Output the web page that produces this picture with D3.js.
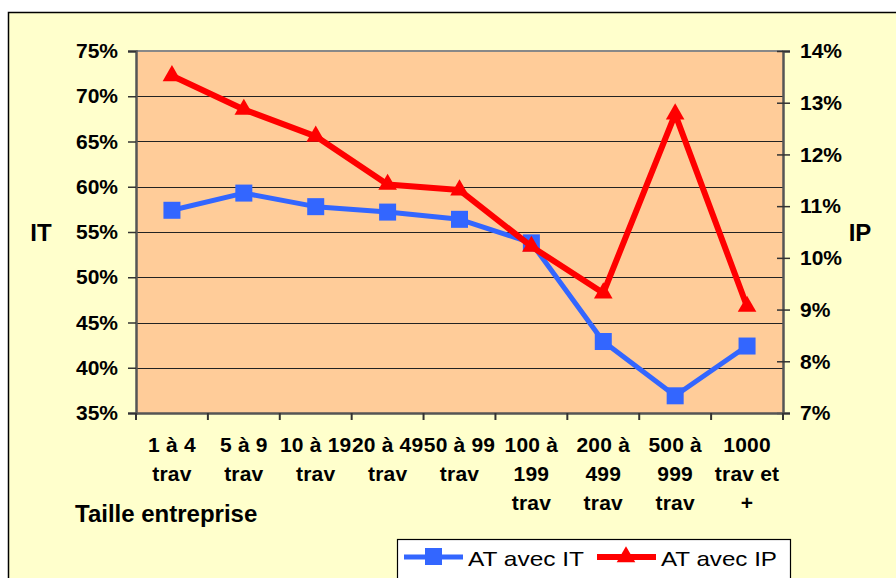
<!DOCTYPE html>
<html>
<head>
<meta charset="utf-8">
<script src="https://cdn.jsdelivr.net/npm/d3@7"></script>
<style>
  body { margin: 0; background: #fff; }
  svg text { font-family: "Liberation Sans", Arial, sans-serif; fill: #000; }
</style>
</head>
<body>
<script>
// données
const categories = [
  ['1 à 4', 'trav'],
  ['5 à 9', 'trav'],
  ['10 à 19', 'trav'],
  ['20 à 49', 'trav'],
  ['50 à 99', 'trav'],
  ['100 à', '199', 'trav'],
  ['200 à', '499', 'trav'],
  ['500 à', '999', 'trav'],
  ['1000', 'trav et', '+']
];
const avecIT = [0.574, 0.593, 0.578, 0.572, 0.564, 0.538, 0.429, 0.369, 0.424];
const avecIP = [0.1352, 0.1287, 0.1235, 0.1142, 0.1131, 0.1022, 0.0932, 0.1278, 0.0906];
const ticksIT = [0.35, 0.40, 0.45, 0.50, 0.55, 0.60, 0.65, 0.70, 0.75];
const ticksIP = [0.07, 0.08, 0.09, 0.10, 0.11, 0.12, 0.13, 0.14];
const legendLabels = ['AT avec IT', 'AT avec IP'];

const width = 896, height = 578;
const plot = {left: 136, right: 783, top: 51, bottom: 413};

const svg = d3.select('body').append('svg')
  .attr('width', width)
  .attr('height', height);

// cadre du graphique
svg.append('rect')
  .attr('x', 8.5).attr('y', 12.5)
  .attr('width', 920).attr('height', 620)
  .attr('fill', '#FFFFCC')
  .attr('stroke', '#000').attr('stroke-width', 1.5);

const x = d3.scaleBand()
  .domain(d3.range(categories.length))
  .range([plot.left, plot.right]);
const yL = d3.scaleLinear().domain([0.35, 0.75]).range([plot.bottom, plot.top]);
const yR = d3.scaleLinear().domain([0.07, 0.14]).range([plot.bottom, plot.top]);
const pct = d3.format('.0%');

// zone de traçage
svg.append('rect')
  .attr('x', plot.left).attr('y', plot.top)
  .attr('width', plot.right - plot.left)
  .attr('height', plot.bottom - plot.top)
  .attr('fill', '#FFCC99');

// quadrillage
svg.append('g')
  .selectAll('line')
  .data(ticksIT.slice(1, -1))
  .join('line')
  .attr('x1', plot.left).attr('x2', plot.right)
  .attr('y1', d => Math.round(yL(d)) + 0.5)
  .attr('y2', d => Math.round(yL(d)) + 0.5)
  .attr('stroke', '#222').attr('stroke-width', 1.2);

svg.append('line')
  .attr('x1', plot.left).attr('x2', plot.right)
  .attr('y1', plot.top).attr('y2', plot.top)
  .attr('stroke', '#888').attr('stroke-width', 2);

// axe gauche
const axisL = svg.append('g')
  .attr('transform', `translate(${plot.left},0)`)
  .call(d3.axisLeft(yL).tickValues(ticksIT).tickFormat(pct).tickSize(8).tickPadding(10));

// axe droit
const axisR = svg.append('g')
  .attr('transform', `translate(${plot.right},0)`)
  .call(d3.axisRight(yR).tickValues(ticksIP).tickFormat(pct).tickSize(7).tickPadding(10));
axisR.selectAll('.tick line').attr('x1', -6);

// axe du bas
const axisB = svg.append('g')
  .attr('transform', `translate(0,${plot.bottom})`)
  .call(d3.axisBottom(x).tickValues([]).tickSize(0));
axisB.selectAll('.tk')
  .data(d3.range(categories.length + 1))
  .join('line')
  .attr('class', 'tk')
  .attr('x1', d => plot.left + d * x.step())
  .attr('x2', d => plot.left + d * x.step())
  .attr('y1', 0).attr('y2', 7)
  .attr('stroke', '#333').attr('stroke-width', 2);

[axisL, axisR, axisB].forEach(a => {
  a.select('.domain').attr('stroke', '#555').attr('stroke-width', 2.5);
  a.selectAll('.tick line').attr('stroke', '#333').attr('stroke-width', 1.5);
  a.selectAll('.tick text')
    .attr('font-size', 21).attr('font-weight', 'bold')
    .attr('font-family', '"Liberation Sans", Arial, sans-serif')
    .attr('fill', '#000');
});

// libellés des catégories
const catLabels = svg.append('g')
  .selectAll('text')
  .data(categories)
  .join('text')
  .attr('x', (d, i) => x(i) + x.bandwidth() / 2)
  .attr('y', 452)
  .attr('text-anchor', 'middle')
  .attr('font-size', 21).attr('font-weight', 'bold')
  .attr('letter-spacing', 0.2);
catLabels.selectAll('tspan')
  .data(d => d)
  .join('tspan')
  .attr('x', function() { return this.parentNode.getAttribute('x'); })
  .attr('dy', (d, i) => i === 0 ? 0 : 29)
  .text(d => d);

// titres des axes
svg.append('text').attr('x', 41).attr('y', 241)
  .attr('text-anchor', 'middle')
  .attr('font-size', 24).attr('font-weight', 'bold').text('IT');
svg.append('text').attr('x', 860).attr('y', 241)
  .attr('text-anchor', 'middle')
  .attr('font-size', 24).attr('font-weight', 'bold').text('IP');
svg.append('text').attr('x', 75).attr('y', 522)
  .attr('font-size', 24).attr('font-weight', 'bold').text('Taille entreprise');

// séries
const cx = i => x(i) + x.bandwidth() / 2;
const lineIT = d3.line().x((d, i) => cx(i)).y(d => yL(d));
const lineIP = d3.line().x((d, i) => cx(i)).y(d => yR(d));

svg.append('path').datum(avecIT)
  .attr('d', lineIT)
  .attr('fill', 'none').attr('stroke', '#3366FF').attr('stroke-width', 5)
  .attr('stroke-linejoin', 'round');
svg.append('g').selectAll('rect')
  .data(avecIT)
  .join('rect')
  .attr('x', (d, i) => cx(i) - 8.5)
  .attr('y', d => yL(d) - 8.5)
  .attr('width', 17).attr('height', 17)
  .attr('fill', '#3366FF');

svg.append('path').datum(avecIP)
  .attr('d', lineIP)
  .attr('fill', 'none').attr('stroke', '#FF0000').attr('stroke-width', 6)
  .attr('stroke-linejoin', 'round');
const tri = d3.symbol().type(d3.symbolTriangle).size(150);
svg.append('g').selectAll('path')
  .data(avecIP)
  .join('path')
  .attr('d', tri)
  .attr('transform', (d, i) => `translate(${cx(i)},${yR(d)})`)
  .attr('fill', '#FF0000');

// légende
const leg = svg.append('g');
leg.append('rect')
  .attr('x', 397.5).attr('y', 539.5)
  .attr('width', 393).attr('height', 60)
  .attr('fill', '#fff').attr('stroke', '#000').attr('stroke-width', 1.2);
const legItems = [
  {x: 404, color: '#3366FF', kind: 'square'},
  {x: 597, color: '#FF0000', kind: 'triangle'}
];
legItems.forEach((it, i) => {
  leg.append('line')
    .attr('x1', it.x).attr('x2', it.x + 59)
    .attr('y1', 557).attr('y2', 557)
    .attr('stroke', it.color).attr('stroke-width', i === 0 ? 5 : 6);
  if (it.kind === 'square') {
    leg.append('rect').attr('x', it.x + 21).attr('y', 548)
      .attr('width', 17).attr('height', 17).attr('fill', it.color);
  } else {
    leg.append('path').attr('d', tri)
      .attr('transform', `translate(${it.x + 29},557)`)
      .attr('fill', it.color);
  }
  leg.append('text')
    .attr('x', it.x + 64).attr('y', 566)
    .attr('font-size', 21)
    .attr('textLength', 116).attr('lengthAdjust', 'spacingAndGlyphs')
    .text(legendLabels[i]);
});
</script>
</body>
</html>
